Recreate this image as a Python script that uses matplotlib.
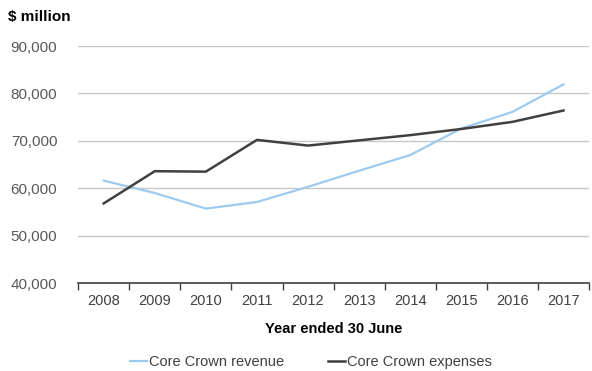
import numpy as np
import matplotlib
matplotlib.use('Agg')
import matplotlib.pyplot as plt

plt.rcParams['font.family'] = ['Liberation Sans', 'DejaVu Sans']

# 核心政府收入与支出（百万新西兰元）
years = [2008, 2009, 2010, 2011, 2012, 2013, 2014, 2015, 2016, 2017]
revenue = [61600, 59000, 55700, 57100, 60300, 63700, 67000, 72600, 76100, 81900]
expenses = [56800, 63600, 63500, 70200, 69000, 70100, 71200, 72500, 74000, 76400]

fig = plt.figure(figsize=(5.92, 3.71), dpi=100)
ax = fig.add_axes([0.132, 0.237, 0.863, 0.639])

x = np.arange(len(years))
ax.plot(x, revenue, color='#9DCBF0', lw=1.6, label='Core Crown revenue')
ax.plot(x, expenses, color='#404040', lw=1.8, label='Core Crown expenses')

ax.set_xlim(-0.5, len(years) - 0.5)
ax.set_ylim(40000, 90000)
ax.set_yticks(np.arange(40000, 90001, 10000))
ax.set_yticklabels([f'{v:,}' for v in range(40000, 90001, 10000)])
ax.yaxis.grid(True, color='#C8C8C8', lw=1.0)
ax.set_axisbelow(True)

# 年份标签居中，刻度线放在类别边界
ax.set_xticks(x)
ax.set_xticklabels([str(y) for y in years])
ax.set_xticks(np.arange(-0.5, len(years), 1.0), minor=True)
ax.tick_params(axis='x', which='major', length=0, pad=8, labelsize=10.5, labelcolor='#404040')
ax.tick_params(axis='x', which='minor', length=5, color='#404040', width=1)
ax.tick_params(axis='y', length=0, pad=15, labelsize=11, labelcolor='#595959')

for side in ['top', 'right', 'left']:
    ax.spines[side].set_visible(False)
ax.spines['bottom'].set_color('#404040')
ax.spines['bottom'].set_linewidth(1.2)

ax.set_xlabel('Year ended 30 June', fontsize=10.5, fontweight='bold', labelpad=10)
fig.text(0.013, 0.955, '$ million', fontsize=11, fontweight='bold', va='center')

fig.legend(loc='center', bbox_to_anchor=(0.525, 0.025), ncol=2, frameon=False,
           fontsize=10.5, handlelength=1.2, handletextpad=0.1, columnspacing=3.0,
           labelcolor='#404040')

fig.savefig('out.png', dpi=100)
